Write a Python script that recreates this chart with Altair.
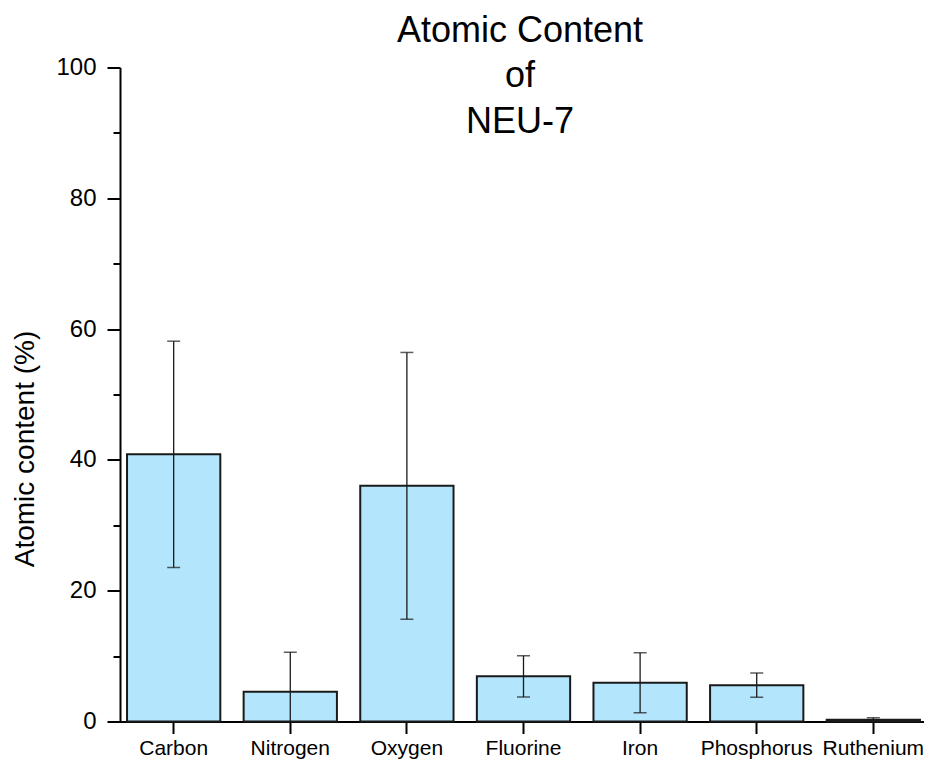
import altair as alt
import pandas as pd

categories = ["Carbon", "Nitrogen", "Oxygen", "Fluorine", "Iron", "Phosphorus", "Ruthenium"]
means = [40.85, 4.54, 36.03, 6.9, 5.92, 5.56, 0.26]
errors = [17.3, 6.06, 20.4, 3.17, 4.6, 1.85, 0.31]

y_major = [0, 20, 40, 60, 80, 100]
y_minor = [10, 30, 50, 70, 90]

df = pd.DataFrame({"element": categories, "mean": means, "err": errors})

FONT = "Liberation Sans"
BLACK = "#000000"

x_enc = alt.X(
    "element:N",
    sort=categories,
    scale=alt.Scale(range=[-3, 810], paddingInner=0.2, paddingOuter=0.086),
    axis=alt.Axis(
        title=None, labelAngle=0, labelFontSize=21, labelFont=FONT, labelColor=BLACK,
        labelPadding=4, tickSize=12, tickWidth=2, tickColor=BLACK,
        domainWidth=2, domainColor=BLACK, grid=False,
    ),
)
y_scale = alt.Scale(domain=[0, 100], nice=False, zero=True)

base = alt.Chart(df).transform_calculate(
    lo="datum.mean - datum.err", hi="datum.mean + datum.err"
)

bars = base.mark_bar(fill="#B3E5FC", stroke="#1a1a1a", strokeWidth=2).encode(
    x=x_enc,
    y=alt.Y(
        "mean:Q",
        scale=y_scale,
        axis=alt.Axis(
            orient="left", values=y_major, title="Atomic content (%)",
            titleFontSize=28, titleFont=FONT, titleFontWeight="normal", titleColor=BLACK,
            titleAngle=270, titleX=-87, titleY=381, titleAlign="center", titleBaseline="alphabetic",
            labelFontSize=24, labelFont=FONT, labelColor=BLACK, labelPadding=11,
            tickSize=13, tickWidth=2, tickColor=BLACK,
            domainWidth=2, domainColor=BLACK, grid=False,
        ),
    ),
)

rules = base.mark_rule(color="#1a1a1a", strokeWidth=1.3, clip=True).encode(
    x=x_enc,
    y=alt.Y(
        "lo:Q",
        scale=y_scale,
        axis=alt.Axis(
            orient="left", values=y_minor, labels=False, domain=False, title=None,
            tickSize=7, tickWidth=2, tickColor=BLACK, grid=False,
        ),
    ),
    y2="hi:Q",
)

caps_hi = base.mark_tick(color="#1a1a1a", size=13, thickness=1.5, clip=True).encode(
    x=x_enc, y=alt.Y("hi:Q", scale=y_scale, axis=None)
)
caps_lo = base.mark_tick(color="#1a1a1a", size=13, thickness=1.5, clip=True).encode(
    x=x_enc, y=alt.Y("lo:Q", scale=y_scale, axis=None)
)

chart = (
    alt.layer(bars, rules, caps_hi, caps_lo)
    .resolve_axis(y="independent")
    .resolve_scale(y="shared")
    .properties(
        width=804,
        height=654,
        autosize=alt.AutoSizeParams(type="none"),
        padding={"left": 112, "top": 59.5, "right": 0, "bottom": 40},
        title=alt.TitleParams(
            text=["Atomic Content", "of", "NEU-7"],
            fontSize=36, font=FONT, fontWeight="normal", color=BLACK,
            lineHeight=45.5, anchor="middle", baseline="top", offset=-85, dx=-2,
        ),
    )
    .configure(background="white", view=alt.ViewConfig(stroke="transparent", strokeWidth=0))
)

chart.save("out.html", embed_options={"renderer": "svg", "actions": False})
